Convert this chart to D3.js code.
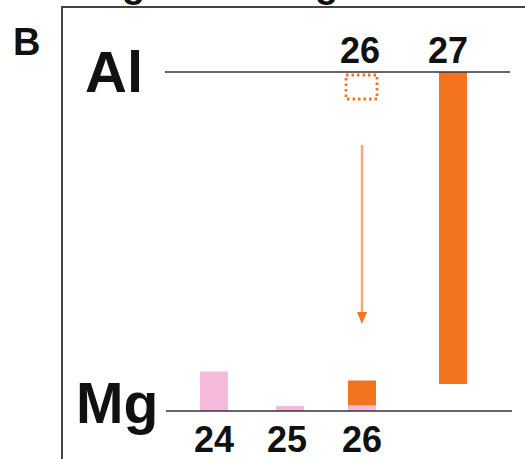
<!DOCTYPE html>
<html>
<head>
<meta charset="utf-8">
<script src="https://cdn.jsdelivr.net/npm/d3@7"></script>
<style>
  body { margin: 0; background: #fff; }
  svg { display: block; font-family: "Liberation Sans", Arial, Helvetica, sans-serif; font-weight: bold; }
</style>
</head>
<body>
<svg id="chart" width="525" height="459"></svg>
<script>
// isotopes along the x axis
const massNumbers = [24, 25, 26, 27];
const mgLabels = ['24', '25', '26'];
const alLabels = ['26', '27'];
// Mg stable isotopes (pink, rising from the Mg line)
const mgIsotopes = [24, 25, 26];
const mgValues = [79, 10, 11];
// radiogenic 26Mg excess from decayed 26Al (orange, stacked on pink 26)
const mgExcess = [{ mass: 26, value: 50 }];
// Al isotopes (hanging from the Al line)
const alIsotopes = [27];
const alValues = [624];
const alExtinct = [{ mass: 26, value: 52 }];

const svg = d3.select('#chart');
const orange = '#f37321', pink = '#f6badd', ink = '#111';

const x = d3.scaleOrdinal().domain(massNumbers).range([214, 290, 362, 453]);
const alY = 72, mgY = 411;
const h = d3.scaleLinear().domain([0, 678]).range([0, mgY - alY]);
const barW = 28;

// frame and cut-off header glyphs
svg.append('g').selectAll('text').data(['g', 'g']).join('text')
  .attr('x', (d, i) => [122, 315][i]).attr('y', -3)
  .attr('font-size', 38).attr('fill', ink).text(d => d);
svg.append('path').attr('d', 'M62,459V7H525').attr('fill', 'none')
  .attr('stroke', '#444').attr('stroke-width', 2);

svg.append('text').attr('x', 13).attr('y', 55).attr('font-size', 38).attr('fill', ink).text('B');
svg.append('text').attr('x', 85).attr('y', 92).attr('font-size', 58).attr('fill', ink).text('Al');
svg.append('text').attr('x', 76).attr('y', 423).attr('font-size', 57).attr('fill', ink).text('Mg');

// Mg bars
svg.append('g').selectAll('rect').data(mgIsotopes).join('rect')
  .attr('x', d => x(d) - barW / 2).attr('width', barW)
  .attr('y', (d, i) => mgY - h(mgValues[i])).attr('height', (d, i) => h(mgValues[i]))
  .attr('fill', pink);
svg.append('g').selectAll('rect').data(mgExcess).join('rect')
  .attr('x', d => x(d.mass) - barW / 2).attr('width', barW)
  .attr('y', d => mgY - h(mgValues[mgIsotopes.indexOf(d.mass)]) - h(d.value))
  .attr('height', d => h(d.value))
  .attr('fill', orange);

// Al bars
svg.append('g').selectAll('rect').data(alIsotopes).join('rect')
  .attr('x', d => x(d) - barW / 2).attr('width', barW)
  .attr('y', alY).attr('height', (d, i) => h(alValues[i]))
  .attr('fill', orange);
svg.append('g').selectAll('rect').data(alExtinct).join('rect')
  .attr('x', d => x(d.mass) - 16).attr('width', 31)
  .attr('y', alY + 3).attr('height', d => h(d.value) - 2)
  .attr('fill', 'none').attr('stroke', orange).attr('stroke-width', 2.8)
  .attr('stroke-dasharray', '2.5,3');

// decay arrow
const ax = x(26);
svg.append('line').attr('x1', ax).attr('x2', ax)
  .attr('y1', 145).attr('y2', 313)
  .attr('stroke', '#f59a5f').attr('stroke-opacity', 0.85).attr('stroke-width', 2.5);
svg.append('path').attr('d', `M${ax - 5},312L${ax + 5},312L${ax},324Z`)
  .attr('fill', orange);

// baselines
svg.append('line').attr('x1', 165).attr('x2', 510).attr('y1', alY).attr('y2', alY)
  .attr('stroke', '#333').attr('stroke-width', 1.5);
svg.append('line').attr('x1', 166).attr('x2', 512).attr('y1', mgY).attr('y2', mgY)
  .attr('stroke', '#333').attr('stroke-width', 1.5);

// isotope labels
svg.append('g').selectAll('text').data(alLabels).join('text')
  .attr('x', d => x(+d) - (d === '27' ? 5 : 2)).attr('y', 63).attr('text-anchor', 'middle')
  .attr('font-size', 36).attr('fill', ink).text(d => d);
svg.append('g').selectAll('text').data(mgLabels).join('text')
  .attr('x', d => x(+d) - (d === '25' ? 3 : 0)).attr('y', 452).attr('text-anchor', 'middle')
  .attr('font-size', 36).attr('fill', ink).text(d => d);
</script>
</body>
</html>
